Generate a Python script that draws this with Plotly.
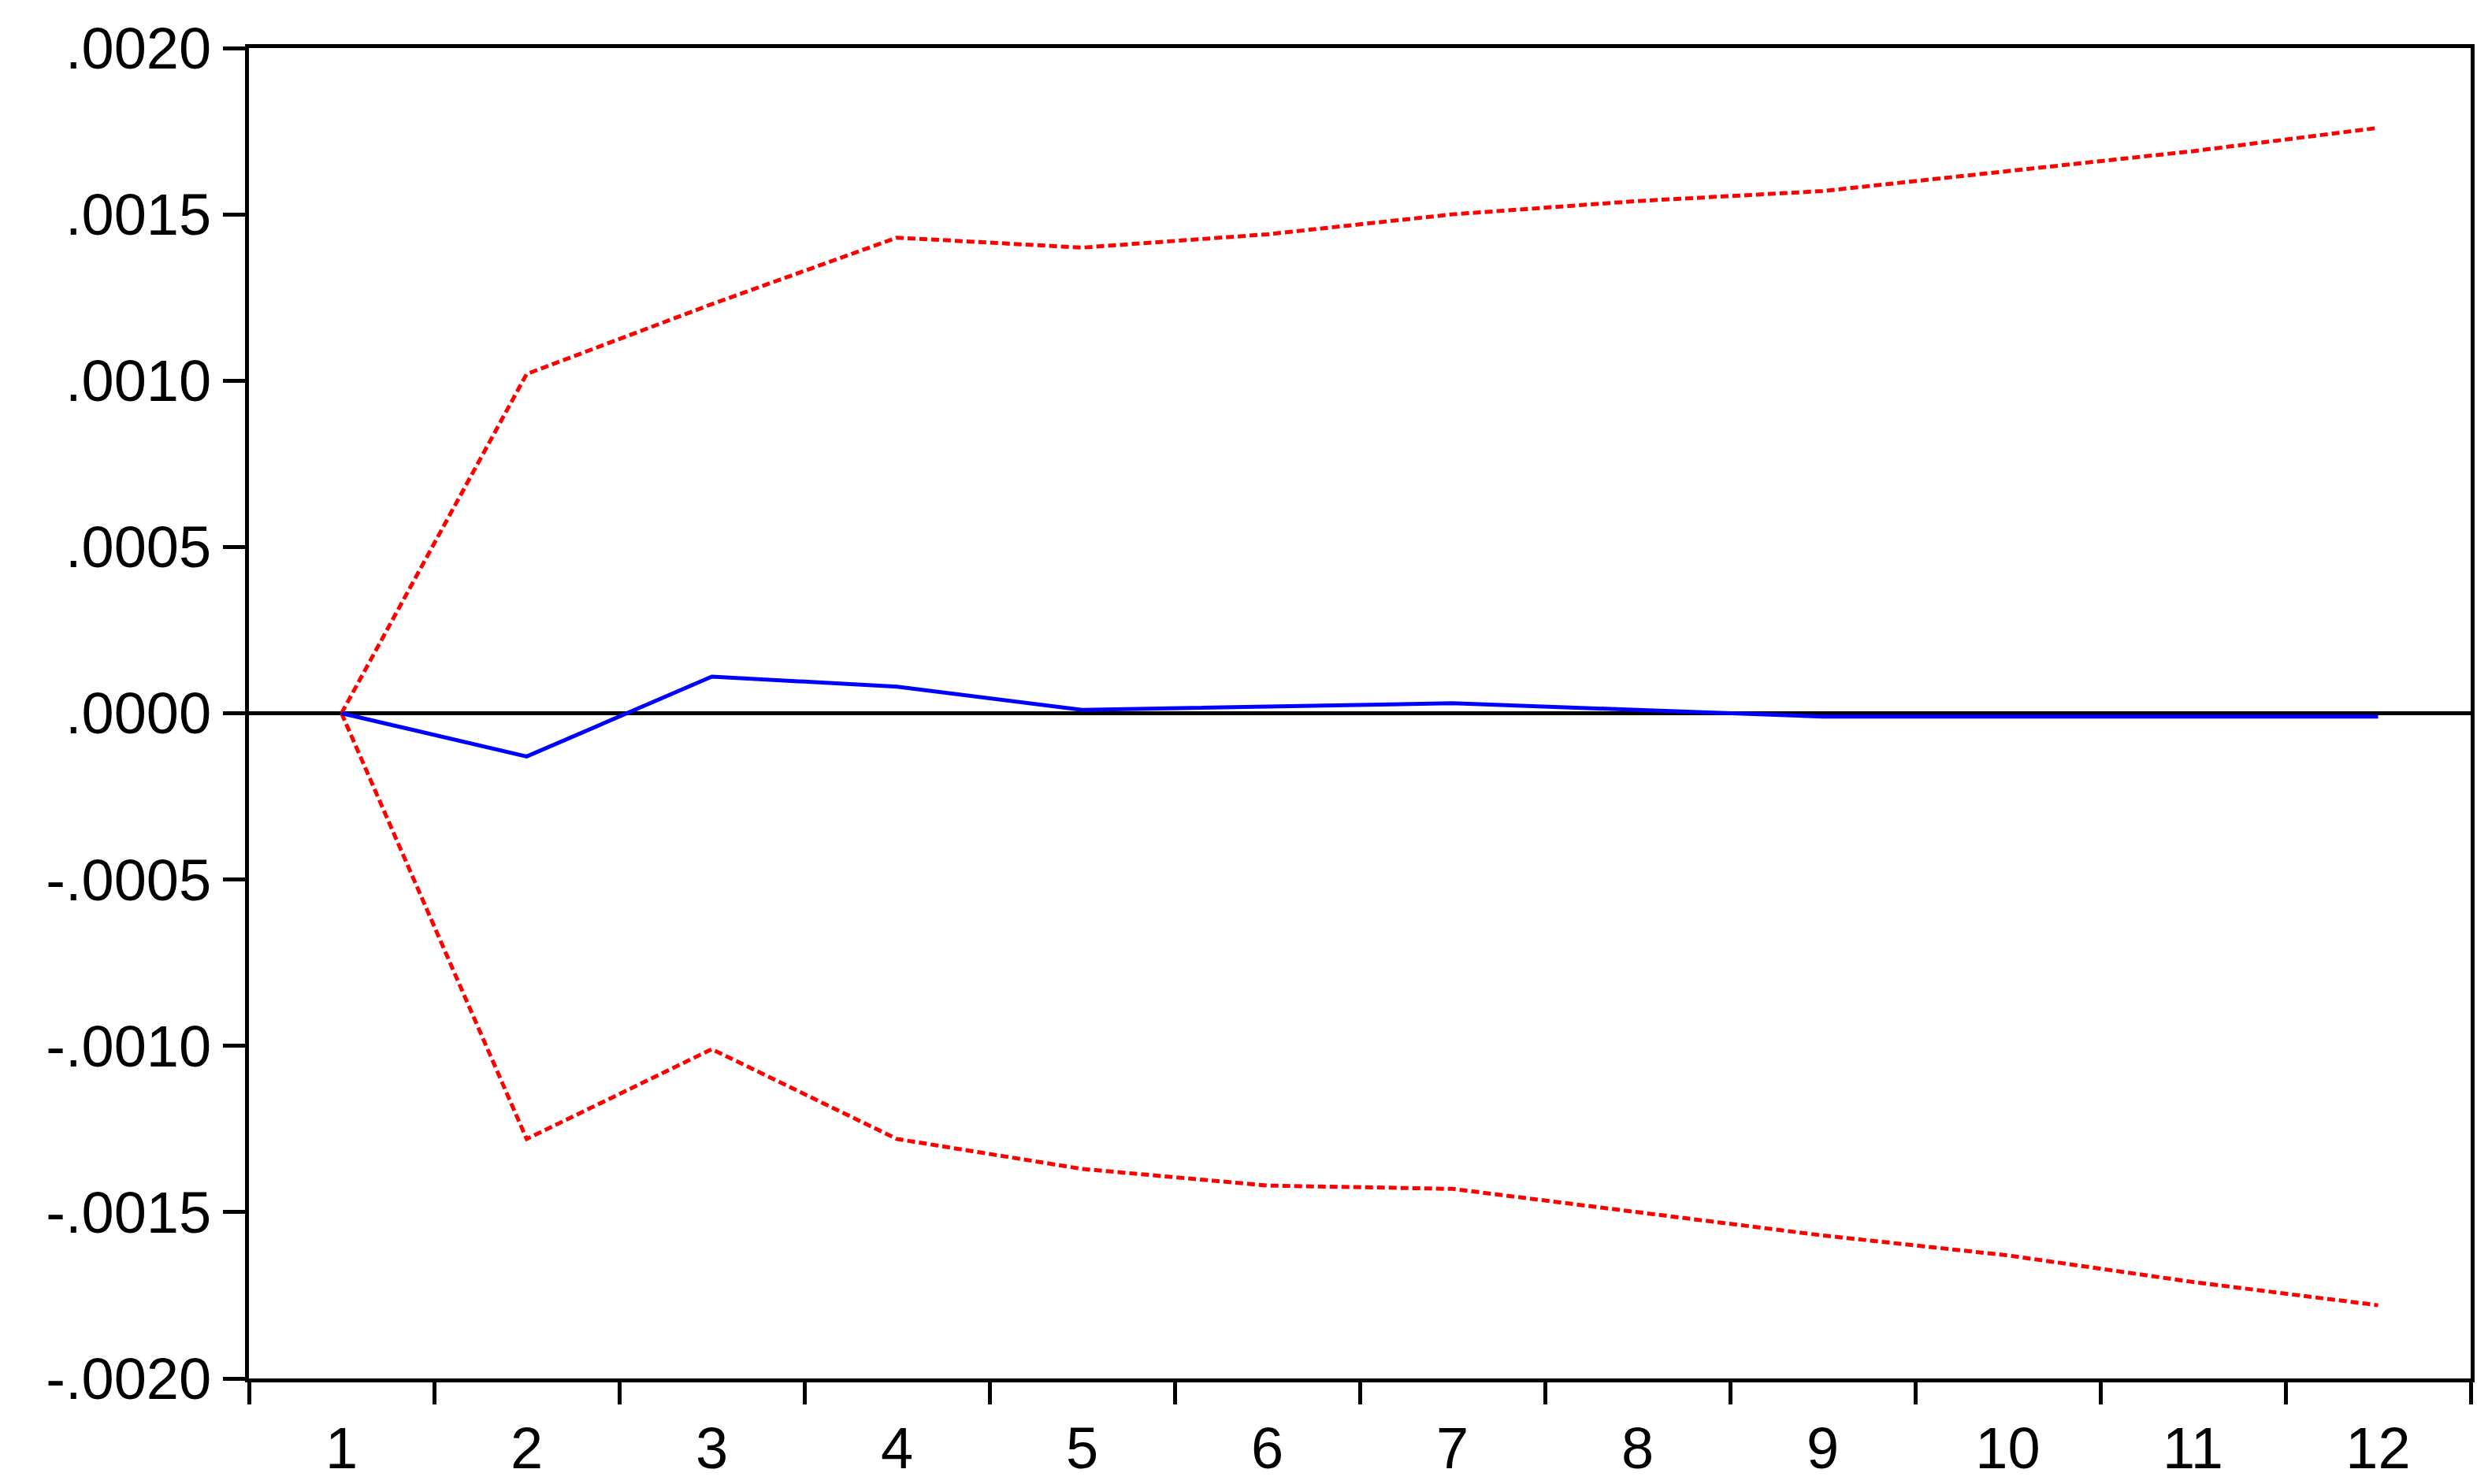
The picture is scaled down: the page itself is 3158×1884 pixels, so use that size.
import plotly.graph_objects as go

periods = list(range(1, 13))
response = [0.0, -0.00013, 0.00011, 0.00008, 0.00001, 0.00002, 0.00003, 0.00001, -0.00001, -0.00001, -0.00001, -0.00001]
upper = [0.0, 0.00102, 0.00123, 0.00143, 0.00140, 0.00144, 0.00150, 0.00154, 0.00157, 0.00163, 0.00169, 0.00176]
lower = [0.0, -0.00128, -0.00101, -0.00128, -0.00137, -0.00142, -0.00143, -0.00150, -0.00157, -0.00163, -0.00171, -0.00178]
ytickvals = [0.002, 0.0015, 0.001, 0.0005, 0.0, -0.0005, -0.001, -0.0015, -0.002]
yticktext = [".0020", ".0015", ".0010", ".0005", ".0000", "-.0005", "-.0010", "-.0015", "-.0020"]

fig = go.Figure()
fig.add_trace(go.Scatter(x=periods, y=upper, mode="lines", line=dict(color="#ff0000", width=5, dash="10px,5px")))
fig.add_trace(go.Scatter(x=periods, y=lower, mode="lines", line=dict(color="#ff0000", width=5, dash="10px,5px")))
fig.add_trace(go.Scatter(x=periods, y=response, mode="lines", line=dict(color="#0000ff", width=5)))

font = dict(family="Liberation Sans, Arial", size=74, color="black")
fig.update_layout(
    width=3158, height=1884, showlegend=False,
    plot_bgcolor="white", paper_bgcolor="white",
    margin=dict(l=308, r=30, t=50, b=142),
    font=font,
)
fig.update_xaxes(range=[0.5, 12.5], tickvals=periods, ticktext=[str(p) for p in periods],
                 showgrid=False, zeroline=False, showline=True, linecolor="black", linewidth=5,
                 mirror=True, ticks="", ticklabelstandoff=20)
fig.update_xaxes(minor=dict(tickvals=[i + 0.5 for i in range(0, 13)], ticks="outside", ticklen=28, tickwidth=5, tickcolor="black"))
fig.update_yaxes(range=[-0.002, 0.002], tickvals=ytickvals, ticktext=yticktext,
                 showgrid=False, zeroline=True, zerolinecolor="black", zerolinewidth=5,
                 showline=True, linecolor="black", linewidth=5, mirror=True,
                 ticks="outside", ticklen=28, tickwidth=5, tickcolor="black")
fig.write_html("out.html")
